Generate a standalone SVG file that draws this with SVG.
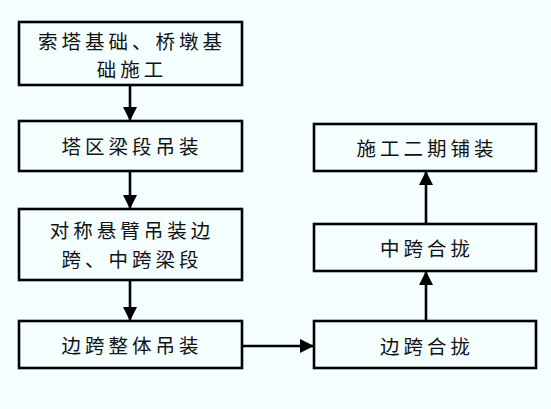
<svg xmlns="http://www.w3.org/2000/svg" width="551" height="409" viewBox="0 0 551 409">
<defs>
<style>
.box{fill:#f4feff;stroke:#000;stroke-width:2.6}
.t{font-family:"Noto Sans CJK SC","Noto Sans CJK JP",sans-serif;font-size:19.5px;letter-spacing:4px;fill:#111;text-anchor:middle;dominant-baseline:central}
.c{stroke:#000;stroke-width:2.6;fill:none;marker-end:url(#ah)}
</style>
<marker id="ah" markerUnits="userSpaceOnUse" markerWidth="14" markerHeight="14" viewBox="0 0 14 14" refX="14" refY="7" orient="auto">
<path d="M0,0 L14,7 L0,14 Z" fill="#000"/>
</marker>
</defs>
<rect width="551" height="409" fill="#f4feff"/>
<g id="connectors">
<line class="c" x1="130" y1="85" x2="130" y2="121"/>
<line class="c" x1="130" y1="171" x2="130" y2="209"/>
<line class="c" x1="130" y1="280" x2="130" y2="321"/>
<line class="c" x1="242" y1="346" x2="314" y2="346"/>
<line class="c" x1="426" y1="321" x2="426" y2="271"/>
<line class="c" x1="426" y1="224" x2="426" y2="171"/>
</g>
<g id="n1"><rect class="box" x="19" y="22" width="223" height="63"/><text class="t" x="132" y="40">索塔基础、桥墩基</text><text class="t" x="132" y="68.5">础施工</text></g>
<g id="n2"><rect class="box" x="19" y="121" width="223" height="50"/><text class="t" x="132" y="145">塔区梁段吊装</text></g>
<g id="n3"><rect class="box" x="19" y="209" width="223" height="71"/><text class="t" x="132" y="229">对称悬臂吊装边</text><text class="t" x="132" y="258">跨、中跨梁段</text></g>
<g id="n4"><rect class="box" x="19" y="321" width="223" height="47"/><text class="t" x="132" y="344">边跨整体吊装</text></g>
<g id="n5"><rect class="box" x="314" y="321" width="222" height="47"/><text class="t" x="427" y="345">边跨合拢</text></g>
<g id="n6"><rect class="box" x="314" y="224" width="222" height="47"/><text class="t" x="427" y="247">中跨合拢</text></g>
<g id="n7"><rect class="box" x="314" y="124" width="222" height="47"/><text class="t" x="427" y="147">施工二期铺装</text></g>
</svg>
